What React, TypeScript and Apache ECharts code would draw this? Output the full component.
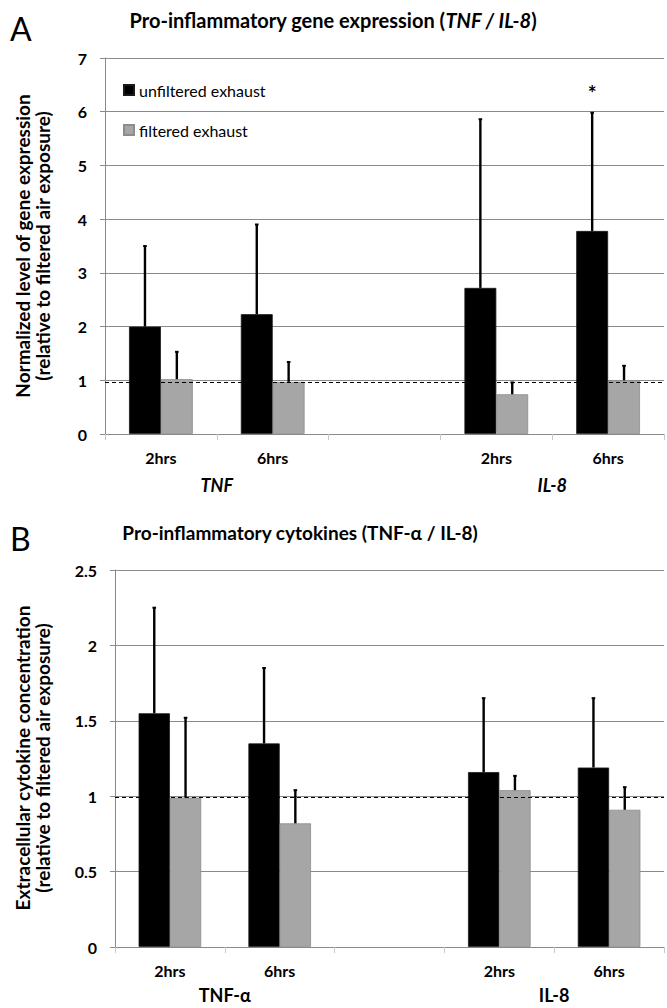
import React, { useEffect, useRef } from "react";
import * as echarts from "echarts";

const timeLabels = ["2hrs", "6hrs", "", "2hrs", "6hrs"];
const geneGroups = ["", "TNF", "", "", "IL-8", ""];
const cytoGroups = ["", "TNF-α", "", "", "IL-8", ""];

const geneUnfiltered = [2.0, 2.23, null, 2.72, 3.78];
const geneUnfilteredErr = [3.5, 3.9, null, 5.86, 5.98];
const geneFiltered = [1.02, 0.97, null, 0.74, 1.0];
const geneFilteredErr = [1.53, 1.34, null, 0.96, 1.27];
const geneSignif = ["", "", "", "", "*"];
const geneRef = 0.97;

const cytoUnfiltered = [1.55, 1.35, null, 1.16, 1.19];
const cytoUnfilteredErr = [2.25, 1.85, null, 1.65, 1.65];
const cytoFiltered = [0.99, 0.82, null, 1.04, 0.91];
const cytoFilteredErr = [1.52, 1.04, null, 1.135, 1.06];
const cytoRef = 0.99;

const BAR_FRAC = 0.285;
const FONT = "Lato, 'Open Sans', sans-serif";
const GRID_COLOR = "#8a8a8a";

function errData(vals: (number | null)[], errs: (number | null)[], sign: number, signif?: string[]) {
  const out: any[] = [];
  vals.forEach((v, i) => {
    if (v == null || errs[i] == null) return;
    out.push({ value: [i, errs[i], v, sign], sig: signif ? signif[i] : "" });
  });
  return out;
}

function makeErrSeries(xi: number, yi: number, data: any[]) {
  return {
    type: "custom",
    xAxisIndex: xi,
    yAxisIndex: yi,
    z: 5,
    silent: true,
    data,
    renderItem: (params: any, api: any) => {
      const idx = api.value(0);
      const top = api.coord([idx, api.value(1)]);
      const base = api.coord([idx, api.value(2)]);
      const bw = api.size([1, 0])[0];
      const x = top[0] + api.value(3) * bw * BAR_FRAC / 2;
      const item = data[params.dataIndex];
      const children: any[] = [
        { type: "line", shape: { x1: x, y1: base[1], x2: x, y2: top[1] }, style: { stroke: "#000", lineWidth: 2.4 } },
        { type: "line", shape: { x1: x - 1.8, y1: top[1], x2: x + 1.8, y2: top[1] }, style: { stroke: "#000", lineWidth: 2 } },
      ];
      if (item.sig) {
        children.push({
          type: "text",
          style: { text: item.sig, x, y: top[1] - 20, textAlign: "center", textVerticalAlign: "middle", font: `bold 21px ${FONT}`, fill: "#000" },
        });
      }
      return { type: "group", children };
    },
  };
}

export default function App() {
  const ref = useRef<HTMLDivElement>(null);
  useEffect(() => {
    if (!ref.current) return;
    const chart = echarts.init(ref.current, undefined, { renderer: "svg" });
    const xCommon = (gi: number) => ({
      type: "category",
      gridIndex: gi,
      data: timeLabels,
      axisLine: { lineStyle: { color: GRID_COLOR, width: 1 } },
      axisTick: { show: true, length: 6, lineStyle: { color: "#c8c8c8" } },
      axisLabel: { margin: 15, fontFamily: FONT, fontWeight: "bold", fontSize: 16, color: "#000" },
      splitLine: { show: false },
    });
    const xGroup = (gi: number, data: string[], italic: boolean, margin: number) => ({
      type: "category",
      gridIndex: gi,
      position: "bottom",
      data,
      boundaryGap: false,
      axisLine: { show: false },
      axisTick: { show: false },
      axisLabel: { margin, interval: 0, fontFamily: FONT, fontWeight: "bold", fontStyle: italic ? "italic" : "normal", fontSize: 18, color: "#000" },
      splitLine: { show: false },
    });
    const yCommon = (gi: number, max: number, interval: number) => ({
      type: "value",
      gridIndex: gi,
      min: 0,
      max,
      interval,
      axisLine: { show: true, lineStyle: { color: GRID_COLOR, width: 1 } },
      axisTick: { show: true, length: 5, lineStyle: { color: GRID_COLOR } },
      axisLabel: { margin: 18, fontFamily: FONT, fontWeight: "bold", fontSize: 16, color: "#000" },
      splitLine: { show: true, lineStyle: { color: GRID_COLOR, width: 1 } },
    });
    const barStyle = (black: boolean) => ({
      color: black ? "#000" : "#a6a6a6",
      borderColor: black ? "#1a1a1a" : "#8c8c8c",
      borderWidth: 0.8,
    });
    const refLine = (v: number) => ({
      silent: true,
      symbol: "none",
      label: { show: false },
      lineStyle: { type: [4, 3], color: "#000", width: 1 },
      data: [{ yAxis: v }],
    });
    const barW = `${BAR_FRAC * 100}%`;
    const option: any = {
      animation: false,
      textStyle: { fontFamily: FONT },
      grid: [
        { left: 105, right: 2, top: 58, height: 376 },
        { left: 115, right: 0, top: 570, height: 377 },
      ],
      xAxis: [xCommon(0), xGroup(0, geneGroups, true, 42), xCommon(1), xGroup(1, cytoGroups, false, 39)],
      yAxis: [yCommon(0, 7, 1), yCommon(1, 2.5, 0.5)],
      legend: {
        orient: "vertical",
        left: 118,
        top: 77,
        itemWidth: 10,
        itemHeight: 10,
        itemGap: 24,
        icon: "rect",
        textStyle: { fontFamily: FONT, fontSize: 16, color: "#000" },
        data: ["unfiltered exhaust", "filtered exhaust"],
      },
      series: [
        { name: "unfiltered exhaust", type: "bar", xAxisIndex: 0, yAxisIndex: 0, data: geneUnfiltered.map((v) => (v == null ? "-" : v)), barWidth: barW, barGap: "0%", itemStyle: barStyle(true) },
        { name: "filtered exhaust", type: "bar", xAxisIndex: 0, yAxisIndex: 0, data: geneFiltered.map((v) => (v == null ? "-" : v)), barWidth: barW, barGap: "0%", itemStyle: barStyle(false), markLine: refLine(geneRef) },
        { name: "unfiltered exhaust", type: "bar", xAxisIndex: 2, yAxisIndex: 1, data: cytoUnfiltered.map((v) => (v == null ? "-" : v)), barWidth: barW, barGap: "0%", itemStyle: barStyle(true) },
        { name: "filtered exhaust", type: "bar", xAxisIndex: 2, yAxisIndex: 1, data: cytoFiltered.map((v) => (v == null ? "-" : v)), barWidth: barW, barGap: "0%", itemStyle: barStyle(false), markLine: refLine(cytoRef) },
        makeErrSeries(0, 0, errData(geneUnfiltered, geneUnfilteredErr, -1, geneSignif)),
        makeErrSeries(0, 0, errData(geneFiltered, geneFilteredErr, 1)),
        makeErrSeries(2, 1, errData(cytoUnfiltered, cytoUnfilteredErr, -1)),
        makeErrSeries(2, 1, errData(cytoFiltered, cytoFilteredErr, 1)),
      ],
      graphic: [
        { type: "text", left: 10, top: 12, style: { text: "A", font: `32px ${FONT}`, fill: "#000" } },
        {
          type: "text", x: 333, y: 20,
          style: {
            text: "{b|Pro-inflammatory gene expression (}{i|TNF / IL-8}{b|)}",
            align: "center", verticalAlign: "middle",
            rich: {
              b: { font: `bold 20px ${FONT}`, fill: "#000" },
              i: { font: `italic bold 20px ${FONT}`, fill: "#000" },
            },
          },
        },
        { type: "text", x: 22, y: 246, rotation: Math.PI / 2, style: { text: "Normalized level of gene expression", font: `bold 19px ${FONT}`, fill: "#000", align: "center", verticalAlign: "middle" } },
        { type: "text", x: 42, y: 246, rotation: Math.PI / 2, style: { text: "(relative to filtered air exposure)", font: `bold 19px ${FONT}`, fill: "#000", align: "center", verticalAlign: "middle" } },
        { type: "text", left: 10, top: 522, style: { text: "B", font: `32px ${FONT}`, fill: "#000" } },
        { type: "text", x: 300, y: 532, style: { text: "Pro-inflammatory cytokines (TNF-α / IL-8)", font: `bold 19px ${FONT}`, fill: "#000", align: "center", verticalAlign: "middle" } },
        { type: "text", x: 22, y: 758, rotation: Math.PI / 2, style: { text: "Extracellular cytokine concentration", font: `bold 19px ${FONT}`, fill: "#000", align: "center", verticalAlign: "middle" } },
        { type: "text", x: 42, y: 758, rotation: Math.PI / 2, style: { text: "(relative to filtered air exposure)", font: `bold 19px ${FONT}`, fill: "#000", align: "center", verticalAlign: "middle" } },
      ],
    };
    chart.setOption(option);
    return () => chart.dispose();
  }, []);
  return <div ref={ref} style={{ position: "fixed", left: 0, top: 0, width: 667, height: 1008, background: "#fff" }} />;
}
